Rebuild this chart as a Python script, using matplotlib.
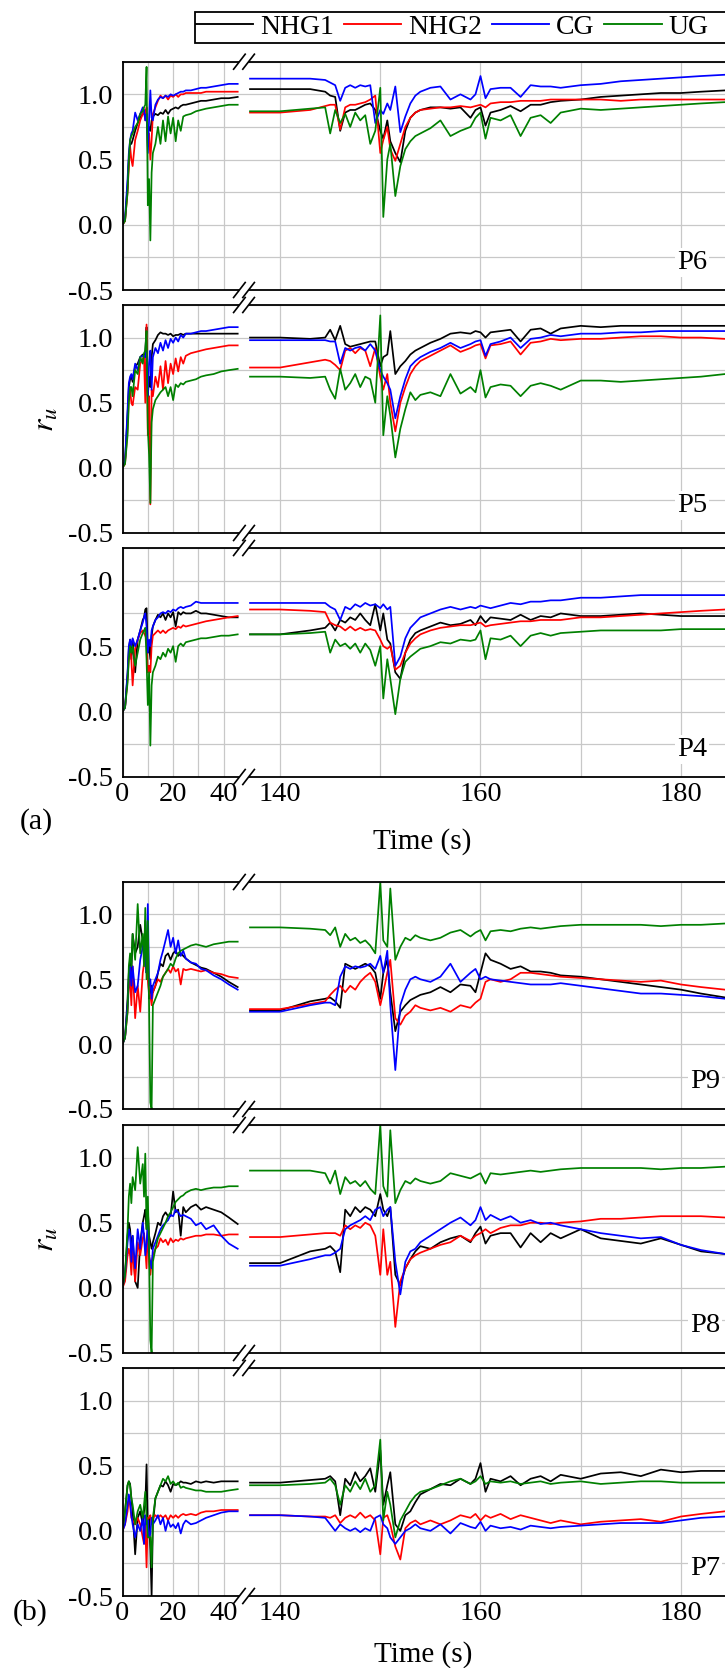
import matplotlib
matplotlib.use("Agg")
import matplotlib.pyplot as plt
from matplotlib.lines import Line2D
from matplotlib.patches import Polygon, Rectangle
from matplotlib.ticker import FixedLocator, FuncFormatter

# ---------------------------------------------------------------- data
# time bases (s): early stage (0-45 s) and later stage (137-184 s)
T_EARLY = [0, 1, 2, 2.5, 3, 3.5, 4, 5, 6, 7, 8, 8.5, 9, 9.5, 10, 10.5, 11, 11.5, 12, 13,
           14, 15, 16, 17, 18, 19, 20, 21, 22, 23, 24, 25, 27, 29, 31, 33, 36, 39, 42, 45.5]
T_LATE = [137, 140, 143, 144.5, 145, 145.5, 146, 146.5, 147, 147.5, 148, 148.5, 149, 149.5,
          150, 150.3, 150.7, 151, 151.5, 152, 152.5, 153, 153.5, 154, 155, 156, 157, 158,
          159, 159.5, 160, 160.5, 161, 162, 163, 164, 165, 166, 167, 168, 170, 172, 174,
          176, 178, 180, 182, 184.4]

SERIES = ["NHG1", "NHG2", "CG", "UG"]
COLORS = ["#000000", "#ff0000", "#0000ff", "#008000"]

# ---- P6
P6_NHG1_EARLY = [0, 0.03, 0.30, 0.50, 0.62, 0.62, 0.65, 0.72, 0.78, 0.82, 0.85, 0.86, 0.88, 0.85, 0.70, 0.75, 0.72, 0.80, 0.83, 0.85,
                 0.84, 0.86, 0.85, 0.88, 0.85, 0.88, 0.89, 0.90, 0.89, 0.91, 0.92, 0.92, 0.93, 0.94, 0.95, 0.95, 0.96, 0.97, 0.97, 0.98]
P6_NHG2_EARLY = [0, 0.03, 0.25, 0.45, 0.60, 0.50, 0.45, 0.65, 0.72, 0.80, 0.85, 0.87, 0.80, 0.90, 0.60, 0.70, 0.50, 0.65, 0.85, 0.90,
                 0.95, 0.99, 0.97, 0.99, 0.96, 0.99, 0.98, 1.00, 0.98, 1.00, 1.00, 1.01, 1.01, 1.01, 1.01, 1.02, 1.02, 1.02, 1.02, 1.02]
P6_CG_EARLY = [0, 0.05, 0.35, 0.55, 0.65, 0.70, 0.72, 0.86, 0.80, 0.85, 0.90, 0.88, 0.80, 0.85, 0.55, 0.80, 1.03, 0.82, 0.80, 0.92,
               0.96, 0.98, 0.97, 0.99, 0.98, 1.00, 0.99, 1.00, 1.01, 1.02, 1.02, 1.03, 1.03, 1.04, 1.05, 1.05, 1.06, 1.07, 1.08, 1.08]
P6_UG_EARLY = [0, 0.03, 0.25, 0.50, 0.65, 0.68, 0.70, 0.75, 0.78, 0.85, 0.87, 0.90, 0.92, 1.21, 0.15, 0.35, -0.12, 0.40, 0.55, 0.62,
               0.75, 0.62, 0.80, 0.64, 0.83, 0.70, 0.82, 0.64, 0.80, 0.72, 0.83, 0.84, 0.85, 0.87, 0.88, 0.89, 0.90, 0.91, 0.92, 0.92]
P6_NHG1_LATE = [1.04, 1.04, 1.04, 1.02, 0.99, 0.98, 0.72, 0.86, 0.88, 0.88, 0.90, 0.92, 0.93, 0.88, 0.72, 0.66, 0.80, 0.64, 0.55, 0.48,
                0.72, 0.82, 0.86, 0.88, 0.90, 0.90, 0.89, 0.90, 0.82, 0.88, 0.90, 0.76, 0.86, 0.88, 0.91, 0.87, 0.92, 0.92, 0.94, 0.95,
                0.96, 0.98, 0.99, 1.00, 1.01, 1.01, 1.02, 1.03]
P6_NHG2_LATE = [0.86, 0.86, 0.88, 0.91, 0.92, 0.92, 0.73, 0.90, 0.92, 0.92, 0.93, 0.94, 0.96, 0.99, 0.55, 0.65, 0.75, 0.58, 0.49, 0.62,
                0.75, 0.82, 0.86, 0.88, 0.89, 0.90, 0.90, 0.91, 0.90, 0.91, 0.92, 0.90, 0.93, 0.94, 0.94, 0.95, 0.95, 0.95, 0.96, 0.96,
                0.96, 0.96, 0.95, 0.96, 0.96, 0.96, 0.96, 0.96]
P6_CG_LATE = [1.12, 1.12, 1.12, 1.11, 1.09, 1.07, 0.95, 1.05, 1.07, 1.05, 1.07, 1.06, 1.07, 0.78, 0.88, 0.85, 0.93, 0.88, 1.06, 0.71,
              0.83, 0.93, 0.99, 1.02, 1.05, 1.06, 0.96, 1.00, 0.96, 1.00, 1.14, 0.97, 1.04, 1.05, 1.05, 0.98, 1.07, 1.06, 1.06, 1.05,
              1.07, 1.08, 1.10, 1.11, 1.12, 1.13, 1.14, 1.15]
P6_UG_LATE = [0.87, 0.87, 0.89, 0.90, 0.70, 0.88, 0.78, 0.85, 0.75, 0.86, 0.80, 0.84, 0.62, 0.72, 1.05, 0.06, 0.50, 0.62, 0.22, 0.45,
              0.58, 0.64, 0.68, 0.70, 0.74, 0.80, 0.68, 0.72, 0.75, 0.82, 0.86, 0.66, 0.82, 0.80, 0.84, 0.68, 0.82, 0.84, 0.78, 0.86,
              0.89, 0.88, 0.89, 0.90, 0.91, 0.92, 0.93, 0.94]

# ---- P5
P5_NHG1_EARLY = [0, 0.05, 0.40, 0.62, 0.68, 0.70, 0.66, 0.78, 0.80, 0.85, 0.87, 0.85, 0.90, 1.08, 0.55, 0.70, 0.62, 0.85, 0.95, 0.98,
                 1.02, 1.04, 1.03, 1.03, 1.02, 1.03, 1.01, 1.02, 1.02, 1.03, 1.02, 1.03, 1.03, 1.03, 1.03, 1.03, 1.03, 1.03, 1.03, 1.03]
P5_NHG2_EARLY = [0, 0.03, 0.30, 0.55, 0.60, 0.50, 0.48, 0.62, 0.60, 0.80, 0.84, 0.85, 0.50, 1.10, 0.25, 0.55, -0.28, 0.60, 0.55, 0.70,
                 0.62, 0.78, 0.60, 0.82, 0.65, 0.80, 0.72, 0.84, 0.74, 0.85, 0.80, 0.86, 0.88, 0.89, 0.90, 0.91, 0.92, 0.93, 0.94, 0.94]
P5_CG_EARLY = [0, 0.05, 0.45, 0.65, 0.70, 0.72, 0.68, 0.80, 0.75, 0.85, 0.86, 0.86, 0.85, 0.90, 0.55, 0.80, 0.90, 0.60, 0.85, 0.92,
               0.88, 0.96, 0.90, 0.98, 0.92, 0.99, 0.96, 1.00, 0.97, 1.02, 1.00, 1.03, 1.03, 1.04, 1.05, 1.05, 1.06, 1.07, 1.08, 1.08]
P5_UG_EARLY = [0, 0.03, 0.25, 0.50, 0.62, 0.62, 0.55, 0.75, 0.72, 0.85, 0.80, 0.88, 0.90, 1.05, 0.30, 0.10, -0.27, 0.35, 0.45, 0.52,
               0.55, 0.58, 0.60, 0.62, 0.55, 0.62, 0.52, 0.64, 0.62, 0.65, 0.64, 0.66, 0.67, 0.68, 0.70, 0.71, 0.72, 0.74, 0.75, 0.76]
P5_NHG1_LATE = [1.00, 1.00, 0.99, 1.00, 1.06, 0.98, 1.09, 0.95, 0.93, 0.94, 0.95, 0.96, 0.97, 0.97, 0.78, 0.85, 0.87, 1.05, 0.72, 0.78,
                0.82, 0.87, 0.90, 0.92, 0.96, 0.99, 1.03, 1.04, 1.03, 1.05, 1.04, 1.00, 1.04, 1.05, 1.06, 0.97, 1.06, 1.07, 1.03, 1.07,
                1.09, 1.08, 1.09, 1.09, 1.09, 1.09, 1.09, 1.09]
P5_NHG2_LATE = [0.77, 0.77, 0.81, 0.83, 0.82, 0.79, 0.75, 0.90, 0.92, 0.88, 0.92, 0.90, 0.78, 0.92, 0.70, 0.60, 0.72, 0.50, 0.28, 0.50,
                0.62, 0.72, 0.78, 0.82, 0.86, 0.90, 0.94, 0.89, 0.92, 0.94, 0.95, 0.84, 0.94, 0.95, 0.97, 0.87, 0.96, 0.97, 0.99, 0.98,
                0.99, 0.99, 1.00, 1.01, 1.01, 1.00, 1.00, 0.99]
P5_CG_LATE = [0.98, 0.98, 0.98, 0.98, 0.97, 0.97, 0.80, 0.92, 0.90, 0.92, 0.93, 0.90, 0.95, 0.90, 0.75, 0.70, 0.65, 0.60, 0.38, 0.55,
              0.68, 0.78, 0.82, 0.85, 0.89, 0.92, 0.96, 0.92, 0.95, 0.97, 0.98, 0.86, 0.95, 0.97, 1.00, 0.92, 0.99, 1.00, 1.02, 1.01,
              1.03, 1.03, 1.04, 1.04, 1.05, 1.05, 1.05, 1.05]
P5_UG_LATE = [0.70, 0.70, 0.69, 0.70, 0.60, 0.53, 0.76, 0.60, 0.65, 0.72, 0.62, 0.70, 0.68, 0.50, 1.17, 0.25, 0.55, 0.40, 0.08, 0.30,
              0.45, 0.58, 0.52, 0.56, 0.58, 0.55, 0.72, 0.57, 0.62, 0.58, 0.75, 0.54, 0.62, 0.64, 0.63, 0.55, 0.63, 0.65, 0.63, 0.60,
              0.67, 0.67, 0.66, 0.67, 0.68, 0.69, 0.70, 0.72]

# ---- P4
P4_NHG1_EARLY = [0, 0.03, 0.28, 0.48, 0.55, 0.40, 0.55, 0.30, 0.55, 0.62, 0.70, 0.72, 0.78, 0.79, 0.45, 0.50, 0.40, 0.58, 0.65, 0.70,
                 0.74, 0.72, 0.75, 0.70, 0.75, 0.72, 0.76, 0.65, 0.76, 0.74, 0.76, 0.75, 0.75, 0.77, 0.75, 0.75, 0.74, 0.73, 0.72, 0.72]
P4_NHG2_EARLY = [0, 0.03, 0.25, 0.42, 0.50, 0.40, 0.20, 0.48, 0.55, 0.60, 0.62, 0.60, 0.58, 0.55, 0.30, 0.35, 0.30, 0.50, 0.58, 0.60,
                 0.62, 0.60, 0.62, 0.60, 0.62, 0.63, 0.64, 0.63, 0.65, 0.64, 0.66, 0.65, 0.66, 0.67, 0.68, 0.69, 0.70, 0.71, 0.72, 0.73]
P4_CG_EARLY = [0, 0.03, 0.30, 0.50, 0.55, 0.50, 0.56, 0.50, 0.55, 0.62, 0.68, 0.72, 0.75, 0.65, 0.45, 0.55, 0.50, 0.62, 0.65, 0.70,
               0.72, 0.75, 0.76, 0.75, 0.77, 0.76, 0.78, 0.77, 0.79, 0.80, 0.79, 0.80, 0.81, 0.84, 0.83, 0.83, 0.83, 0.83, 0.83, 0.83]
P4_UG_EARLY = [0, 0.03, 0.22, 0.40, 0.50, 0.45, 0.50, 0.35, 0.45, 0.55, 0.60, 0.62, 0.64, 0.40, 0.05, 0.30, -0.26, 0.20, 0.30, 0.35,
               0.42, 0.40, 0.45, 0.42, 0.48, 0.45, 0.50, 0.38, 0.50, 0.52, 0.50, 0.53, 0.54, 0.55, 0.56, 0.56, 0.57, 0.58, 0.58, 0.59]
P4_NHG1_LATE = [0.59, 0.59, 0.62, 0.64, 0.68, 0.62, 0.70, 0.68, 0.72, 0.70, 0.75, 0.70, 0.66, 0.82, 0.62, 0.75, 0.55, 0.52, 0.30, 0.25,
                0.45, 0.55, 0.60, 0.62, 0.65, 0.68, 0.66, 0.67, 0.70, 0.66, 0.73, 0.68, 0.72, 0.71, 0.70, 0.74, 0.70, 0.73, 0.72, 0.75,
                0.73, 0.73, 0.74, 0.75, 0.74, 0.73, 0.73, 0.73]
P4_NHG2_LATE = [0.78, 0.78, 0.77, 0.76, 0.68, 0.66, 0.65, 0.62, 0.65, 0.62, 0.64, 0.62, 0.63, 0.62, 0.55, 0.50, 0.48, 0.50, 0.32, 0.35,
                0.45, 0.52, 0.56, 0.59, 0.62, 0.64, 0.65, 0.66, 0.66, 0.67, 0.68, 0.65, 0.66, 0.67, 0.68, 0.69, 0.69, 0.70, 0.70, 0.70,
                0.72, 0.72, 0.73, 0.74, 0.75, 0.76, 0.77, 0.78]
P4_CG_LATE = [0.83, 0.83, 0.83, 0.83, 0.80, 0.78, 0.70, 0.80, 0.78, 0.82, 0.80, 0.83, 0.81, 0.82, 0.79, 0.82, 0.78, 0.80, 0.35, 0.42,
              0.56, 0.64, 0.68, 0.72, 0.75, 0.78, 0.80, 0.78, 0.80, 0.79, 0.81, 0.80, 0.79, 0.81, 0.83, 0.82, 0.84, 0.84, 0.85, 0.85,
              0.87, 0.87, 0.88, 0.89, 0.89, 0.89, 0.89, 0.89]
P4_UG_LATE = [0.59, 0.59, 0.60, 0.61, 0.45, 0.55, 0.50, 0.52, 0.48, 0.52, 0.45, 0.52, 0.47, 0.35, 0.50, 0.10, 0.40, 0.25, -0.02, 0.25,
              0.38, 0.42, 0.45, 0.48, 0.50, 0.53, 0.52, 0.55, 0.54, 0.55, 0.62, 0.40, 0.56, 0.55, 0.58, 0.50, 0.58, 0.60, 0.58, 0.60,
              0.61, 0.62, 0.62, 0.62, 0.62, 0.63, 0.63, 0.63]

# ---- P9
P9_NHG1_EARLY = [0, 0.05, 0.35, 0.55, 0.65, 0.55, 0.85, 0.70, 0.75, 0.92, 0.80, 0.70, 0.95, 0.55, 0.60, 0.35, 0.40, 0.45, 0.40, 0.45,
                 0.55, 0.62, 0.60, 0.68, 0.70, 0.65, 0.70, 0.72, 0.68, 0.70, 0.68, 0.66, 0.63, 0.61, 0.59, 0.58, 0.55, 0.52, 0.48, 0.44]
P9_NHG2_EARLY = [0, 0.05, 0.25, 0.45, 0.50, 0.30, 0.60, 0.20, 0.45, 0.25, 0.55, 0.62, 0.65, 0.60, 0.50, 0.40, 0.38, 0.30, 0.40, 0.45,
                 0.50, 0.48, 0.52, 0.55, 0.58, 0.55, 0.60, 0.56, 0.58, 0.46, 0.58, 0.57, 0.58, 0.57, 0.56, 0.57, 0.55, 0.54, 0.52, 0.51]
P9_CG_EARLY = [0, 0.05, 0.30, 0.50, 0.60, 0.45, 0.60, 0.40, 0.45, 0.65, 0.75, 0.80, 0.70, 0.55, 1.08, 0.45, 0.50, 0.35, 0.45, 0.50,
               0.55, 0.65, 0.72, 0.80, 0.88, 0.75, 0.82, 0.70, 0.80, 0.68, 0.72, 0.66, 0.63, 0.62, 0.58, 0.57, 0.53, 0.50, 0.46, 0.42]
P9_UG_EARLY = [0, 0.05, 0.25, 0.60, 0.70, 0.60, 0.85, 0.65, 1.08, 0.70, 0.85, 0.60, 1.05, 0.50, 0.95, 0.30, -0.45, -0.50, 0.30, 0.35,
               0.40, 0.45, 0.52, 0.55, 0.58, 0.62, 0.60, 0.66, 0.70, 0.72, 0.73, 0.74, 0.76, 0.77, 0.76, 0.75, 0.77, 0.78, 0.79, 0.79]
P9_NHG1_LATE = [0.26, 0.26, 0.33, 0.35, 0.36, 0.33, 0.28, 0.62, 0.60, 0.58, 0.60, 0.62, 0.60, 0.55, 0.35, 0.55, 0.65, 0.40, 0.10, 0.25,
                0.30, 0.34, 0.36, 0.38, 0.40, 0.44, 0.40, 0.46, 0.45, 0.40, 0.55, 0.70, 0.65, 0.62, 0.58, 0.60, 0.56, 0.56, 0.55, 0.53,
                0.52, 0.50, 0.48, 0.46, 0.44, 0.42, 0.39, 0.36]
P9_NHG2_LATE = [0.27, 0.27, 0.31, 0.33, 0.38, 0.42, 0.45, 0.40, 0.45, 0.42, 0.48, 0.52, 0.55, 0.48, 0.30, 0.40, 0.55, 0.65, 0.20, 0.15,
                0.22, 0.25, 0.30, 0.28, 0.26, 0.28, 0.25, 0.30, 0.28, 0.32, 0.35, 0.48, 0.50, 0.48, 0.50, 0.55, 0.55, 0.54, 0.53, 0.52,
                0.51, 0.50, 0.49, 0.48, 0.49, 0.46, 0.44, 0.42]
P9_CG_LATE = [0.25, 0.25, 0.30, 0.32, 0.32, 0.30, 0.52, 0.60, 0.58, 0.60, 0.59, 0.60, 0.62, 0.58, 0.68, 0.55, 0.72, 0.30, -0.20, 0.30,
              0.42, 0.50, 0.52, 0.50, 0.48, 0.52, 0.62, 0.48, 0.55, 0.58, 0.50, 0.52, 0.50, 0.49, 0.48, 0.47, 0.46, 0.46, 0.46, 0.47,
              0.45, 0.43, 0.41, 0.39, 0.39, 0.38, 0.37, 0.35]
P9_UG_LATE = [0.90, 0.90, 0.89, 0.88, 0.84, 0.90, 0.75, 0.85, 0.80, 0.82, 0.78, 0.80, 0.76, 0.70, 1.25, 0.80, 0.75, 1.20, 0.65, 0.75,
              0.82, 0.80, 0.84, 0.82, 0.80, 0.82, 0.86, 0.88, 0.83, 0.86, 0.88, 0.80, 0.87, 0.88, 0.87, 0.89, 0.90, 0.89, 0.90, 0.91,
              0.92, 0.92, 0.92, 0.92, 0.91, 0.92, 0.92, 0.93]

# ---- P8
P8_NHG1_EARLY = [0, 0.10, 0.40, 0.50, 0.45, 0.30, 0.40, 0.05, 0.00, 0.35, 0.50, 0.55, 0.60, 0.45, 0.60, 0.40, 0.35, 0.30, 0.35, 0.42,
                 0.50, 0.48, 0.55, 0.58, 0.55, 0.55, 0.74, 0.58, 0.60, 0.40, 0.62, 0.58, 0.62, 0.64, 0.60, 0.62, 0.60, 0.58, 0.54, 0.49]
P8_NHG2_EARLY = [0, 0.05, 0.25, 0.30, 0.25, 0.10, 0.30, 0.05, 0.35, 0.25, 0.38, 0.42, 0.30, 0.15, 0.50, 0.20, 0.10, 0.20, 0.25, 0.30,
                 0.32, 0.38, 0.35, 0.37, 0.33, 0.38, 0.35, 0.37, 0.36, 0.38, 0.37, 0.38, 0.39, 0.40, 0.40, 0.41, 0.41, 0.40, 0.41, 0.41]
P8_CG_EARLY = [0, 0.10, 0.35, 0.45, 0.40, 0.20, 0.40, 0.15, 0.45, 0.30, 0.50, 0.40, 0.25, 0.35, 0.50, 0.25, 0.20, 0.15, 0.30, 0.35,
               0.40, 0.45, 0.48, 0.50, 0.52, 0.56, 0.55, 0.60, 0.58, 0.55, 0.56, 0.55, 0.53, 0.48, 0.50, 0.45, 0.48, 0.40, 0.34, 0.30]
P8_UG_EARLY = [0, 0.10, 0.45, 0.70, 0.80, 0.65, 0.85, 0.75, 1.08, 0.80, 0.95, 0.70, 1.03, 0.45, 0.70, 0.30, -0.40, -0.50, 0.20, 0.30,
               0.38, 0.42, 0.46, 0.50, 0.55, 0.58, 0.62, 0.66, 0.68, 0.70, 0.71, 0.73, 0.75, 0.76, 0.75, 0.76, 0.77, 0.77, 0.78, 0.78]
P8_NHG1_LATE = [0.19, 0.19, 0.28, 0.30, 0.32, 0.28, 0.12, 0.60, 0.55, 0.62, 0.58, 0.62, 0.60, 0.55, 0.72, 0.60, 0.55, 0.62, 0.10, 0.02,
                0.15, 0.22, 0.28, 0.32, 0.30, 0.35, 0.38, 0.40, 0.35, 0.42, 0.47, 0.34, 0.40, 0.42, 0.42, 0.31, 0.42, 0.35, 0.42, 0.38,
                0.45, 0.38, 0.36, 0.34, 0.38, 0.33, 0.28, 0.26]
P8_NHG2_LATE = [0.39, 0.39, 0.41, 0.42, 0.42, 0.42, 0.40, 0.48, 0.45, 0.48, 0.46, 0.50, 0.48, 0.40, 0.10, 0.45, 0.10, 0.20, -0.30, 0.05,
                0.15, 0.22, 0.25, 0.27, 0.30, 0.33, 0.35, 0.40, 0.36, 0.40, 0.42, 0.45, 0.42, 0.46, 0.48, 0.48, 0.50, 0.50, 0.49, 0.50,
                0.51, 0.53, 0.53, 0.54, 0.55, 0.55, 0.55, 0.54]
P8_CG_LATE = [0.17, 0.17, 0.22, 0.25, 0.25, 0.27, 0.30, 0.45, 0.48, 0.50, 0.52, 0.55, 0.52, 0.60, 0.62, 0.55, 0.60, 0.62, 0.20, -0.05,
              0.20, 0.28, 0.30, 0.35, 0.40, 0.45, 0.50, 0.54, 0.48, 0.52, 0.62, 0.52, 0.56, 0.52, 0.55, 0.50, 0.52, 0.49, 0.50, 0.48,
              0.45, 0.42, 0.40, 0.38, 0.39, 0.33, 0.29, 0.26]
P8_UG_LATE = [0.90, 0.90, 0.90, 0.88, 0.80, 0.90, 0.72, 0.85, 0.80, 0.82, 0.78, 0.82, 0.76, 0.72, 1.25, 0.78, 0.70, 1.21, 0.65, 0.75,
              0.82, 0.80, 0.84, 0.82, 0.80, 0.82, 0.88, 0.86, 0.84, 0.86, 0.88, 0.80, 0.88, 0.87, 0.88, 0.89, 0.90, 0.89, 0.90, 0.91,
              0.92, 0.92, 0.92, 0.92, 0.91, 0.92, 0.92, 0.93]

# ---- P7
P7_NHG1_EARLY = [0, 0.15, 0.35, 0.38, 0.36, 0.25, 0.15, -0.18, 0.10, 0.15, 0.05, 0.15, 0.20, 0.51, 0.00, 0.10, -0.15, -0.50, 0.05, 0.25,
                 0.30, 0.35, 0.34, 0.38, 0.35, 0.30, 0.36, 0.35, 0.36, 0.38, 0.37, 0.37, 0.36, 0.38, 0.37, 0.38, 0.37, 0.38, 0.38, 0.38]
P7_NHG2_EARLY = [0, 0.05, 0.15, 0.25, 0.20, 0.10, 0.08, 0.05, 0.10, 0.05, -0.05, -0.10, 0.05, -0.28, 0.10, 0.10, 0.12, 0.05, 0.10, 0.12,
                 0.10, 0.12, 0.10, 0.12, 0.08, 0.12, 0.10, 0.12, 0.10, 0.12, 0.13, 0.12, 0.13, 0.12, 0.14, 0.15, 0.15, 0.16, 0.16, 0.16]
P7_CG_EARLY = [0, 0.05, 0.20, 0.28, 0.22, 0.12, 0.05, -0.05, 0.05, 0.00, 0.10, -0.10, 0.12, 0.05, 0.08, -0.05, -0.02, 0.10, 0.05, 0.08,
               0.12, 0.05, 0.10, 0.00, 0.08, 0.03, 0.05, 0.02, 0.06, -0.02, 0.05, 0.08, 0.05, 0.06, 0.08, 0.10, 0.12, 0.14, 0.15, 0.15]
P7_UG_EARLY = [0, 0.15, 0.35, 0.38, 0.35, 0.25, 0.20, 0.05, 0.15, 0.20, 0.10, 0.20, 0.30, 0.10, -0.05, -0.05, -0.05, -0.28, 0.10, 0.25,
               0.30, 0.35, 0.40, 0.38, 0.42, 0.36, 0.38, 0.35, 0.37, 0.33, 0.34, 0.33, 0.32, 0.31, 0.31, 0.30, 0.30, 0.30, 0.31, 0.32]
P7_NHG1_LATE = [0.37, 0.37, 0.39, 0.40, 0.42, 0.38, 0.12, 0.40, 0.35, 0.45, 0.38, 0.42, 0.48, 0.30, 0.62, 0.20, 0.35, 0.45, 0.05, 0.00,
                0.12, 0.15, 0.22, 0.28, 0.32, 0.36, 0.35, 0.40, 0.36, 0.40, 0.52, 0.30, 0.40, 0.38, 0.42, 0.35, 0.40, 0.42, 0.38, 0.43,
                0.40, 0.44, 0.45, 0.42, 0.47, 0.45, 0.46, 0.46]
P7_NHG2_LATE = [0.12, 0.12, 0.11, 0.11, 0.10, 0.12, 0.06, 0.10, 0.12, 0.10, 0.14, 0.10, 0.12, 0.08, -0.18, 0.10, 0.12, 0.05, -0.12, -0.22,
                0.02, 0.06, 0.08, 0.05, 0.08, 0.05, 0.08, 0.12, 0.10, 0.13, 0.08, 0.12, 0.10, 0.13, 0.09, 0.12, 0.10, 0.08, 0.06, 0.08,
                0.05, 0.07, 0.08, 0.09, 0.07, 0.11, 0.13, 0.15]
P7_CG_LATE = [0.12, 0.12, 0.11, 0.10, 0.05, 0.00, 0.05, 0.02, 0.00, 0.02, -0.01, 0.02, 0.00, 0.10, 0.12, 0.05, 0.02, -0.05, -0.10, -0.05,
              0.00, 0.02, 0.05, 0.02, 0.00, 0.05, -0.02, 0.06, 0.03, 0.02, 0.07, 0.00, 0.04, 0.02, 0.03, 0.01, 0.04, 0.03, 0.02, 0.03,
              0.04, 0.05, 0.06, 0.06, 0.06, 0.08, 0.10, 0.11]
P7_UG_LATE = [0.35, 0.35, 0.36, 0.37, 0.40, 0.35, 0.20, 0.35, 0.30, 0.38, 0.32, 0.40, 0.30, 0.35, 0.70, 0.08, 0.30, 0.20, -0.05, 0.08,
              0.15, 0.22, 0.27, 0.30, 0.32, 0.35, 0.38, 0.40, 0.36, 0.38, 0.42, 0.36, 0.38, 0.37, 0.38, 0.36, 0.37, 0.38, 0.36, 0.37,
              0.38, 0.36, 0.37, 0.38, 0.38, 0.37, 0.37, 0.37]

PANELS = {
    "P6": ([P6_NHG1_EARLY, P6_NHG2_EARLY, P6_CG_EARLY, P6_UG_EARLY],
           [P6_NHG1_LATE, P6_NHG2_LATE, P6_CG_LATE, P6_UG_LATE]),
    "P5": ([P5_NHG1_EARLY, P5_NHG2_EARLY, P5_CG_EARLY, P5_UG_EARLY],
           [P5_NHG1_LATE, P5_NHG2_LATE, P5_CG_LATE, P5_UG_LATE]),
    "P4": ([P4_NHG1_EARLY, P4_NHG2_EARLY, P4_CG_EARLY, P4_UG_EARLY],
           [P4_NHG1_LATE, P4_NHG2_LATE, P4_CG_LATE, P4_UG_LATE]),
    "P9": ([P9_NHG1_EARLY, P9_NHG2_EARLY, P9_CG_EARLY, P9_UG_EARLY],
           [P9_NHG1_LATE, P9_NHG2_LATE, P9_CG_LATE, P9_UG_LATE]),
    "P8": ([P8_NHG1_EARLY, P8_NHG2_EARLY, P8_CG_EARLY, P8_UG_EARLY],
           [P8_NHG1_LATE, P8_NHG2_LATE, P8_CG_LATE, P8_UG_LATE]),
    "P7": ([P7_NHG1_EARLY, P7_NHG2_EARLY, P7_CG_EARLY, P7_UG_EARLY],
           [P7_NHG1_LATE, P7_NHG2_LATE, P7_CG_LATE, P7_UG_LATE]),
}

# ---------------------------------------------------------------- style
plt.rcParams.update({
    "font.family": ["Liberation Serif", "DejaVu Serif"],
    "mathtext.fontset": "stix",
    "axes.unicode_minus": False,
})
FS = 20.5
GRID_C = "#c8c8c8"
SPINE_LW = 1.3
LINE_LW = 1.25

W, H = 725, 1668
fig = plt.figure(figsize=(W / 100, H / 100), dpi=100)

X_LEFT, X_BREAK, X_RIGHT = 122.5, 243.0, 725.0
XLIM_EARLY = (0, 47.6)
XLIM_LATE = (136.3, 184.4)
YLIM = (-0.5, 1.25)


def fx(px):
    return px / W


def fy(py):
    return 1 - py / H


def add_px_axes(x0, x1, top, bottom):
    return fig.add_axes([fx(x0), fy(bottom), (x1 - x0) / W, (bottom - top) / H])


def ylab(v, _):
    if abs(v * 2 - round(v * 2)) < 1e-6 and v < 1.2:
        return f"{v:.1f}"
    return ""


def style_axis(ax, xticks, xlabels, show_x, show_y):
    ax.set_ylim(*YLIM)
    ax.yaxis.set_major_locator(FixedLocator([-0.5, -0.25, 0, 0.25, 0.5, 0.75, 1.0, 1.25]))
    ax.yaxis.set_major_formatter(FuncFormatter(ylab))
    ax.set_xticks(xticks)
    ax.set_xticklabels(xlabels if show_x else [""] * len(xticks))
    ax.grid(True, color=GRID_C, lw=0.9)
    ax.set_axisbelow(True)
    ax.tick_params(length=0, labelsize=FS, pad=3.6)
    ax.tick_params(axis="y", pad=6.8, labelleft=show_y)
    for s in ax.spines.values():
        s.set_linewidth(SPINE_LW)


def break_marks(y):
    cx = X_BREAK + 1.0
    hw, hh, sep = 5.8, 7.5, 9.2
    xa, xb = cx - sep / 2, cx + sep / 2
    poly = Polygon([(fx(xa - hw), fy(y + hh)), (fx(xa + hw), fy(y - hh)),
                    (fx(xb + hw), fy(y - hh)), (fx(xb - hw), fy(y + hh))],
                   closed=True, transform=fig.transFigure, fc="white", ec="none", zorder=20)
    fig.add_artist(poly)
    for xc in (xa, xb):
        fig.add_artist(Line2D([fx(xc - hw), fx(xc + hw)], [fy(y + hh), fy(y - hh)],
                              transform=fig.transFigure, color="black", lw=1.2, zorder=21))


GROUPS = [
    (["P6", "P5", "P4"], [(61.7, 290), (305, 533), (548, 777)], 181.1),
    (["P9", "P8", "P7"], [(882, 1109), (1125, 1353), (1368, 1596)], 182.4),
]

for names, rows, label_t in GROUPS:
    for i, (name, (top, bot)) in enumerate(zip(names, rows)):
        last = i == len(names) - 1
        axL = add_px_axes(X_LEFT, X_BREAK, top, bot)
        axR = add_px_axes(X_BREAK, X_RIGHT, top, bot)
        early, late = PANELS[name]
        for vals, col in zip(early, COLORS):
            axL.plot(T_EARLY, vals, color=col, lw=LINE_LW)
        for vals, col in zip(late, COLORS):
            axR.plot(T_LATE, vals, color=col, lw=LINE_LW)
        axL.set_xlim(*XLIM_EARLY)
        axR.set_xlim(*XLIM_LATE)
        style_axis(axL, [0, 10, 20, 30, 40], ["0", "", "20", "", "40"], last, True)
        style_axis(axR, [140, 150, 160, 170, 180], ["140", "", "160", "", "180"], last, False)
        axL.spines["right"].set_visible(False)
        axR.spines["left"].set_visible(False)
        axR.spines["right"].set_visible(False)
        axR.text(label_t, -0.29, name, ha="center", va="center", fontsize=FS,
                 bbox=dict(fc="white", ec="none", pad=1.5), zorder=5)
        break_marks(top)
        break_marks(bot)

# group captions and axis titles
fig.text(fx(36), fy(822), "(a)", ha="center", va="center", fontsize=21.5)
fig.text(fx(422), fy(842), "Time (s)", ha="center", va="center", fontsize=21)
fig.text(fx(30), fy(1613), "(b)", ha="center", va="center", fontsize=21.5)
fig.text(fx(423), fy(1655), "Time (s)", ha="center", va="center", fontsize=21)
fig.text(fx(46), fy(419), r"$r_u$", ha="center", va="center", rotation=90, fontsize=23)
fig.text(fx(46), fy(1239), r"$r_u$", ha="center", va="center", rotation=90, fontsize=23)

# legend in a box running off the right edge
fig.add_artist(Rectangle((fx(195), fy(43)), (735 - 195) / W, 31 / H, transform=fig.transFigure,
                         fc="white", ec="black", lw=SPINE_LW, zorder=1))
handles = [Line2D([], [], color=c, lw=LINE_LW + 0.1) for c in COLORS]
leg = fig.legend(handles, SERIES, loc="center left", bbox_to_anchor=(fx(195.5), fy(27.5)),
                 ncol=4, frameon=False, fontsize=20, handlelength=2.07, handletextpad=0.25,
                 columnspacing=0.35, borderpad=0, borderaxespad=0)
leg.set_zorder(2)

fig.savefig("out.png", dpi=100)
